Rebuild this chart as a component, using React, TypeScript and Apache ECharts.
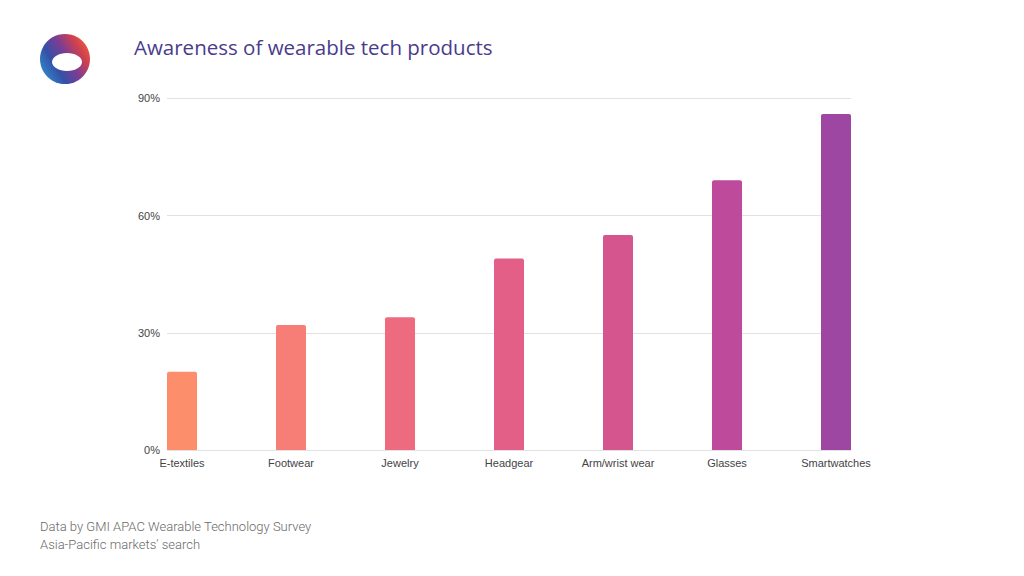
import React, { useEffect, useRef } from "react";
import * as echarts from "echarts";

const categories = ["E-textiles", "Footwear", "Jewelry", "Headgear", "Arm/wrist wear", "Glasses", "Smartwatches"];
const awareness = [20, 32, 34, 49, 55, 69, 86];
const barColors = ["#FC8E6C", "#F77E76", "#EE6B7F", "#E35F87", "#D5558F", "#BE4A9B", "#9D46A2"];
const yTicks = [0, 30, 60, 90];
const titleText = "Awareness of wearable tech products";
const footerLines = ["Data by GMI APAC Wearable Technology Survey", "Asia-Pacific markets' search"];

export default function App() {
  const ref = useRef<HTMLDivElement>(null);
  useEffect(() => {
    if (!ref.current) return;
    const chart = echarts.init(ref.current, null, { renderer: "svg" });
    const yMin = yTicks[0];
    const yMax = yTicks[yTicks.length - 1];
    const yInterval = yTicks[1] - yTicks[0];
    const top = 98.3;
    const bottom = 126;
    chart.setOption({
      animation: false,
      backgroundColor: "#ffffff",
      grid: [
        { left: 127.5, right: 133.5, top, bottom },
        { left: 167, right: 173, top, bottom },
      ],
      xAxis: [
        {
          type: "category",
          gridIndex: 0,
          data: categories,
          axisLine: { show: false },
          axisTick: { show: false },
          axisLabel: { color: "#444444", fontSize: 11, fontFamily: "Liberation Sans, Arial, sans-serif", margin: 7 },
        },
        { type: "value", gridIndex: 1, show: false, min: 0, max: 1 },
      ],
      yAxis: [
        {
          type: "value",
          gridIndex: 0,
          min: yMin,
          max: yMax,
          interval: yInterval,
          axisLabel: { show: false },
          splitLine: { show: false },
          axisLine: { show: false },
          axisTick: { show: false },
        },
        {
          type: "value",
          gridIndex: 1,
          min: yMin,
          max: yMax,
          interval: yInterval,
          axisLine: { show: false },
          axisTick: { show: false },
          axisLabel: {
            formatter: "{value}%",
            color: "#444444",
            fontSize: 11,
            fontFamily: "Liberation Sans, Arial, sans-serif",
            margin: 7,
          },
          splitLine: { lineStyle: { color: "#e2e2e2", width: 1 } },
        },
      ],
      series: [
        {
          type: "bar",
          xAxisIndex: 0,
          yAxisIndex: 0,
          barWidth: 30,
          data: awareness.map((v, i) => ({ value: v, itemStyle: { color: barColors[i] } })),
          itemStyle: { borderRadius: [2, 2, 0, 0] },
        },
      ],
      graphic: [
        {
          type: "circle",
          shape: { cx: 65, cy: 59, r: 25 },
          style: {
            fill: new echarts.graphic.LinearGradient(0, 0.8, 1, 0.2, [
              { offset: 0, color: "#2F8FD0" },
              { offset: 0.3, color: "#3550A6" },
              { offset: 0.55, color: "#7A3D95" },
              { offset: 0.8, color: "#D0404F" },
              { offset: 1, color: "#EC633A" },
            ]),
          },
        },
        {
          type: "ellipse",
          shape: { cx: 67, cy: 62, rx: 15, ry: 9 },
          style: { fill: "#ffffff" },
        },
        {
          type: "text",
          left: 134,
          top: 36,
          style: {
            text: titleText,
            fill: "#4A3B8C",
            font: "20.5px 'Open Sans', sans-serif",
          },
        },
        {
          type: "text",
          left: 40,
          top: 517,
          style: {
            text: footerLines.join("\n"),
            fill: "#6A6A6A",
            font: "300 13px Roboto, sans-serif",
            lineHeight: 18,
          },
        },
      ],
    });
    return () => chart.dispose();
  }, []);
  return <div ref={ref} style={{ position: "fixed", left: 0, top: 0, width: 1024, height: 576 }} />;
}
